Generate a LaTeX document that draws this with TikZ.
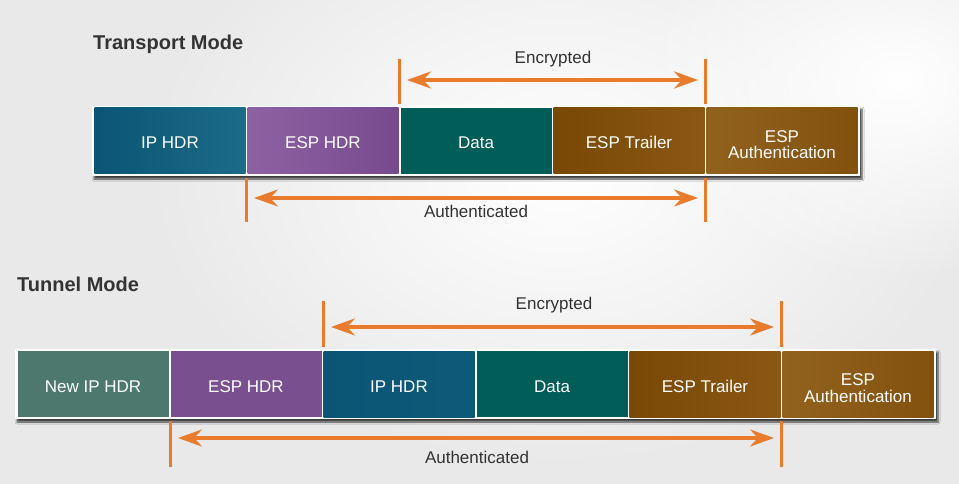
\documentclass[tikz,border=0pt]{standalone}
\usepackage{fontspec}
\setmainfont{Liberation Sans}
\usetikzlibrary{positioning, arrows.meta, shadows.blur, fadings}
\definecolor{orng}{HTML}{E97B2C}
\definecolor{txtgray}{HTML}{333333}
\definecolor{IPa}{HTML}{0B5475}
\definecolor{IPb}{HTML}{1B6C88}
\definecolor{IPc}{HTML}{0D5A78}
\definecolor{ESPa}{HTML}{8D62A3}
\definecolor{ESPb}{HTML}{774A8D}
\definecolor{ESPc}{HTML}{7A4F90}
\definecolor{DATA}{HTML}{005D58}
\definecolor{TRa}{HTML}{784804}
\definecolor{TRb}{HTML}{8A5814}
\definecolor{AUa}{HTML}{91621E}
\definecolor{AUb}{HTML}{83510E}
\definecolor{NEWIP}{HTML}{4C786D}
\tikzfading[name=glow, inner color=transparent!0, outer color=transparent!100]

\begin{document}
\begin{tikzpicture}[
  x=1pt, y=-1pt,
  every node/.style={font=\fontsize{17}{17}\selectfont},
  cell/.style={minimum width=151pt, minimum height=66pt, inner sep=0pt,
    outer sep=0pt, text=white, align=center, text height=16pt, text depth=0pt},
  cell2/.style={cell, text height=36pt, text depth=0pt},
  ttl/.style={font=\fontsize{20}{22}\selectfont\bfseries, text=txtgray,
    anchor=west, inner sep=0pt},
  lbl/.style={text=txtgray, inner sep=0pt, anchor=base},
  frame/.style={fill=white, blur shadow={shadow xshift=2pt, shadow yshift=-3pt,
    shadow blur radius=2pt, shadow opacity=75}},
  lim/.style={draw=orng, line width=3pt},
  span/.style={draw=orng, line width=3.5pt,
    {Stealth[length=24pt,width=17pt,inset=8pt]}-{Stealth[length=24pt,width=17pt,inset=8pt]},
    shorten <=8pt, shorten >=7pt}
]
  % background
  \useasboundingbox (0,0) rectangle (959,484);
  \fill[gray!17] (0,0) rectangle (959,484);
  \fill[white, path fading=glow] (560,170) ellipse (420 and 300);
  \fill[white, path fading=glow] (900,80) ellipse (260 and 200);

  % --- Transport Mode ---
  \node[ttl] (ttlT) at (93,44) {Transport Mode};
  \fill[frame] (92,106) rectangle (860,176);
  \node[cell, anchor=west, left color=IPa, right color=IPb] (tIP) at (94.5,141) {IP HDR};
  \node[cell, right=2pt of tIP, left color=ESPa, right color=ESPb] (tESP) {ESP HDR};
  \node[cell, right=2pt of tESP, fill=DATA] (tData) {Data};
  \node[cell, right=2pt of tData, left color=TRa, right color=TRb] (tTrl) {ESP Trailer};
  \node[cell2, right=2pt of tTrl, left color=AUa, right color=AUb] (tAuth) {ESP\\Authentication};

  % encrypted / authenticated
  \coordinate (eTl) at (399,80);
  \coordinate (eTr) at (705,80);
  \draw[lim] (eTl) ++(0,-21) -- ++(0,45);
  \draw[lim] (eTr) ++(0,-21) -- ++(0,45);
  \draw[span] (eTl) -- (eTr);
  \node[lbl] (encT) at (553,64) {Encrypted};

  \coordinate (aTl) at (246,198);
  \coordinate (aTr) at (705,198);
  \draw[lim] (aTl) ++(0,-20) -- ++(0,44);
  \draw[lim] (aTr) ++(0,-20) -- ++(0,44);
  \draw[span] (aTl) -- (aTr);
  \node[lbl] (autT) at (476,218) {Authenticated};

  % --- Tunnel Mode ---
  \node[ttl] (ttlN) at (17,284) {Tunnel Mode};
  \fill[frame] (15,349) rectangle (936,419);
  \node[cell, anchor=west, fill=NEWIP] (nNew) at (17.5,384) {New IP HDR};
  \node[cell, right=2pt of nNew, fill=ESPc] (nESP) {ESP HDR};
  \node[cell, right=2pt of nESP, left color=IPa, right color=IPc] (nIP) {IP HDR};
  \node[cell, right=2pt of nIP, fill=DATA] (nData) {Data};
  \node[cell, right=2pt of nData, left color=TRa, right color=TRb] (nTrl) {ESP Trailer};
  \node[cell2, right=2pt of nTrl, left color=AUa, right color=AUb] (nAuth) {ESP\\Authentication};

  % encrypted / authenticated
  \coordinate (eNl) at (323,327);
  \coordinate (eNr) at (781,327);
  \draw[lim] (eNl) ++(0,-26) -- ++(0,46);
  \draw[lim] (eNr) ++(0,-26) -- ++(0,46);
  \draw[span] (eNl) -- (eNr);
  \node[lbl] (encN) at (554,309) {Encrypted};

  \coordinate (aNl) at (170,438);
  \coordinate (aNr) at (781,438);
  \draw[lim] (aNl) ++(0,-17) -- ++(0,46);
  \draw[lim] (aNr) ++(0,-17) -- ++(0,46);
  \draw[span] (aNl) -- (aNr);
  \node[lbl] (autN) at (477,463) {Authenticated};
\end{tikzpicture}
\end{document}
